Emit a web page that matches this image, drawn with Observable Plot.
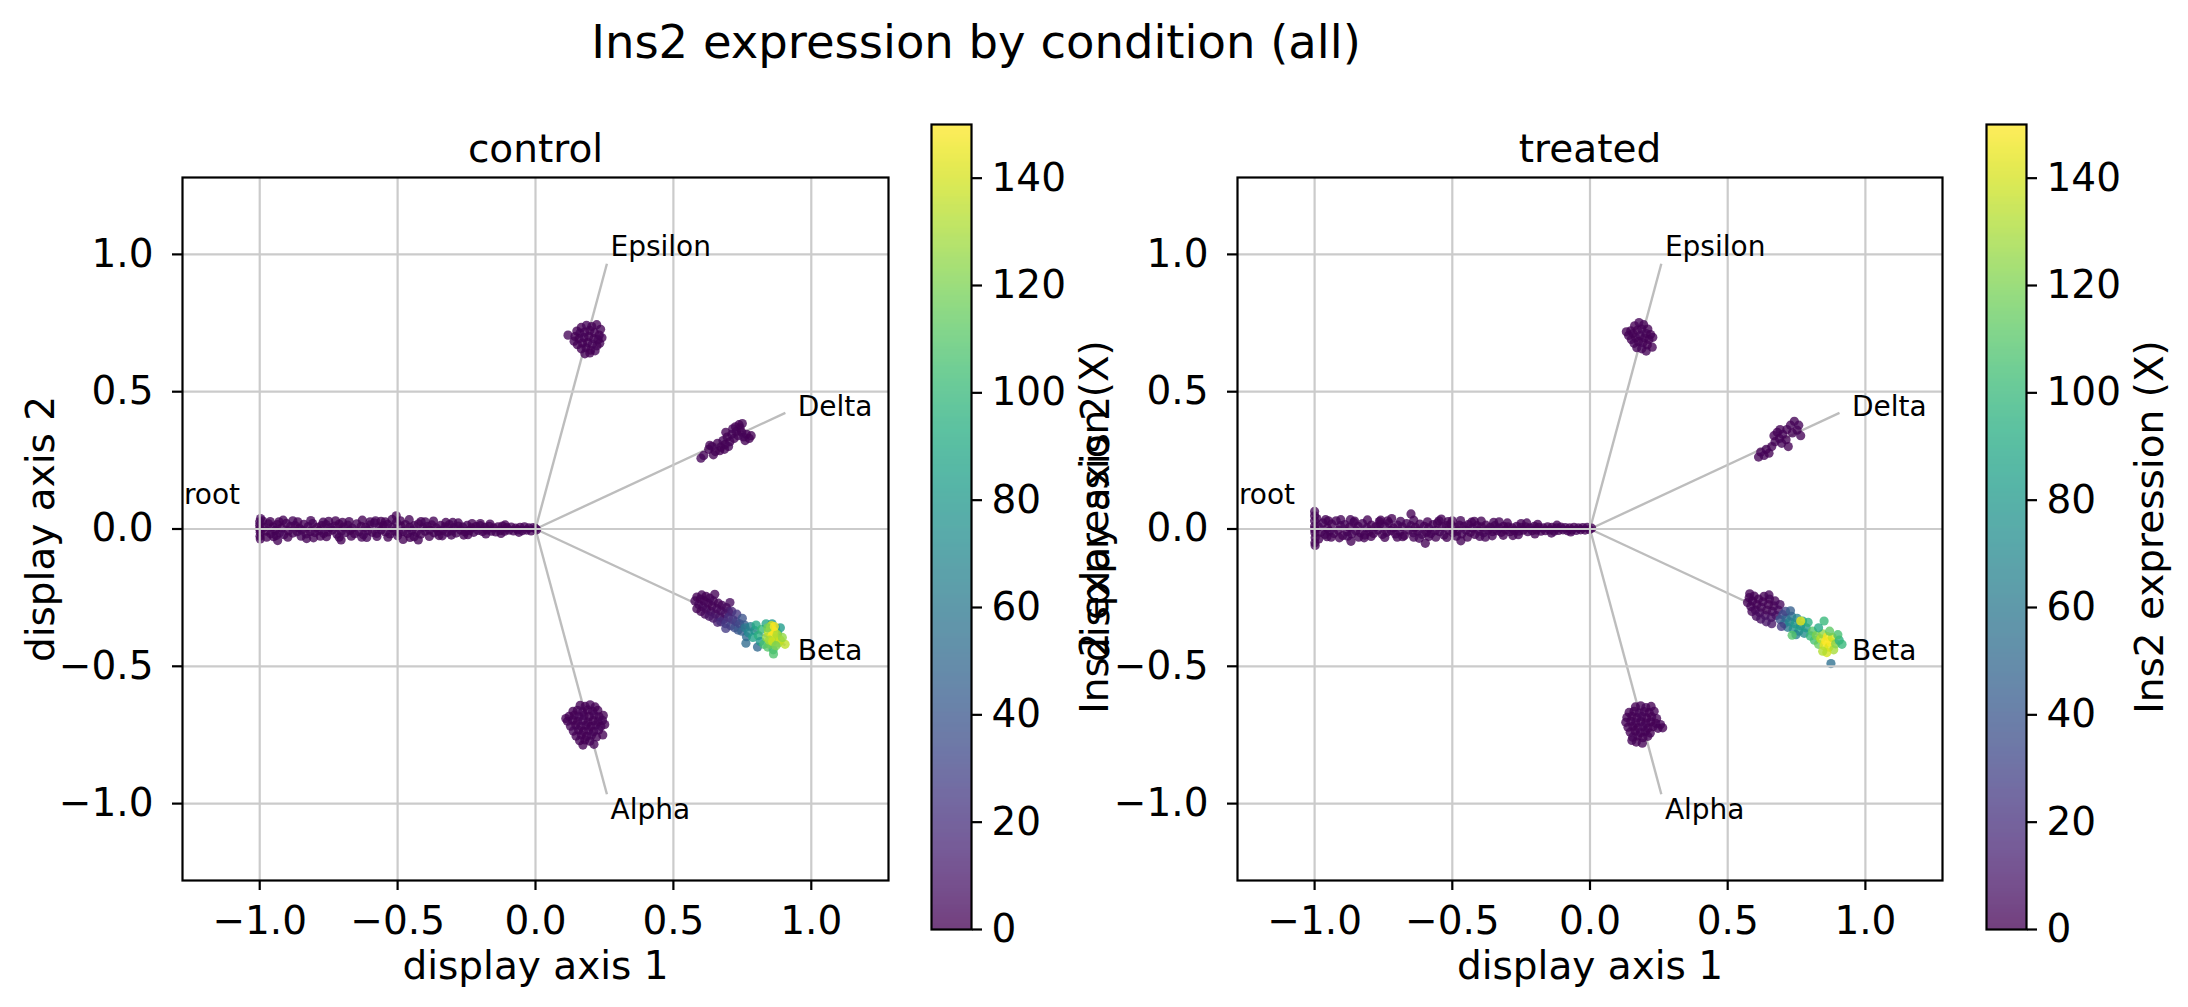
<!DOCTYPE html>
<html>
<head>
<meta charset="utf-8">
<script src="https://cdn.jsdelivr.net/npm/d3@7"></script>
<script src="https://cdn.jsdelivr.net/npm/@observablehq/plot@0.6"></script>
<style>
  html, body { margin: 0; padding: 0; background: #fff; }
  #fig { position: relative; width: 2188px; height: 1007px; overflow: hidden; background: #fff;
         font-family: "DejaVu Sans", sans-serif; color: #000; }
  #fig svg { position: absolute; top: 0; }
  #title { position: absolute; left: 0; top: 19px; width: 1952px; text-align: center;
           font-size: 46.5px; line-height: 46px; white-space: nowrap; }
</style>
</head>
<body>
<div id="fig"><div id="title">Ins2 expression by condition (all)</div></div>
<script>
// ---- axes ----
const xTicks = [-1, -0.5, 0, 0.5, 1];
const yTicks = [-1, -0.5, 0, 0.5, 1];
const cbTicks = [0, 20, 40, 60, 80, 100, 120, 140];
const axisDomain = [-1.28, 1.28];
const exprDomain = [0, 150];

// ---- branch geometry (tips of the gray guide lines and label anchors) ----
const branchNames = ["Epsilon", "Delta", "Beta", "Alpha"];
const branchTipX = [0.259, 0.906, 0.906, 0.259];
const branchTipY = [0.966, 0.423, -0.423, -0.966];
const labelX = [0.272, 0.951, 0.951, 0.272];
const labelY = [1.026, 0.444, -0.444, -1.022];
const rootName = "root";
const rootLabelX = -1.275;
const rootLabelY = 0.125;

// ---- cells: [display axis 1, display axis 2, Ins2 expression] ----
const controlRoot = [
[-1.000,0.014,1],[-0.998,-0.012,0],[-1.000,0.026,2],[-0.999,-0.026,1],[-1.000,0.000,0],[-0.997,0.038,3],[-0.998,-0.036,1],
[-0.984,0.006,0],[-0.976,-0.008,1],[-0.968,0.019,2],[-0.960,-0.017,0],[-0.952,0.008,1],[-0.944,-0.005,0],[-0.936,0.016,2],[-0.928,-0.014,1],[-0.920,0.004,0],[-0.912,-0.021,3],[-0.904,0.021,1],[-0.896,-0.007,0],[-0.888,0.010,1],[-0.880,-0.015,2],[-0.872,0.013,0],[-0.864,-0.010,1],[-0.856,0.003,0],[-0.848,-0.004,2],[-0.840,0.017,1],[-0.832,-0.018,0],[-0.824,0.009,1],[-0.816,-0.009,0],[-0.808,0.020,2],[-0.800,-0.013,1],[-0.792,0.006,0],[-0.784,-0.006,1],[-0.776,0.012,0],[-0.768,-0.016,2],[-0.760,0.016,1],[-0.752,-0.011,0],[-0.744,0.005,1],[-0.736,-0.004,0],[-0.728,0.011,2],[-0.720,-0.019,1],[-0.712,0.018,0],[-0.704,-0.008,1],[-0.696,0.007,0],[-0.688,-0.013,2],[-0.680,0.014,1],[-0.672,-0.005,0],[-0.664,0.003,1],[-0.656,-0.017,0],[-0.648,0.019,2],[-0.640,-0.010,1],[-0.632,0.010,0],[-0.624,-0.021,1],[-0.616,0.006,0],[-0.608,-0.006,2],[-0.600,0.015,1],[-0.592,-0.012,0],[-0.584,0.022,1],[-0.576,-0.016,0],[-0.568,0.008,2],[-0.560,-0.004,1],[-0.552,0.013,0],[-0.544,-0.011,1],[-0.536,0.017,0],[-0.528,-0.018,2],[-0.520,0.005,1],[-0.512,-0.007,0],[-0.504,0.025,1],[-0.496,-0.013,0],[-0.488,0.011,2],[-0.480,-0.009,1],[-0.472,0.016,0],[-0.464,-0.016,1],[-0.456,0.007,0],[-0.448,-0.005,2],[-0.440,0.012,1],[-0.432,-0.012,0],[-0.424,0.019,1],[-0.416,-0.019,0],[-0.408,0.006,2],[-0.400,-0.008,1],[-0.392,0.010,0],[-0.384,-0.004,1],[-0.376,0.015,0],[-0.368,-0.014,2],[-0.360,0.004,1],[-0.352,-0.009,0],[-0.344,0.013,1],[-0.336,-0.005,0],[-0.328,0.008,2],[-0.320,-0.012,1],[-0.312,0.016,0],[-0.304,-0.007,1],[-0.296,0.005,0],[-0.288,-0.015,2],[-0.280,0.011,1],[-0.272,-0.004,0],[-0.264,0.007,1],[-0.256,-0.010,0],[-0.248,0.013,2],[-0.240,-0.006,1],[-0.232,0.004,0],[-0.224,-0.012,1],[-0.216,0.009,0],[-0.208,-0.005,2],[-0.200,0.012,1],[-0.192,-0.009,0],[-0.184,0.006,1],[-0.176,-0.004,0],[-0.168,0.010,2],[-0.160,-0.008,1],[-0.152,0.004,0],[-0.144,-0.011,1],[-0.136,0.008,0],[-0.128,-0.005,2],[-0.120,0.011,1],[-0.112,-0.008,0],[-0.104,0.005,1],[-0.096,-0.004,0],[-0.088,0.007,2],[-0.080,-0.007,1],[-0.072,0.003,0],[-0.064,-0.003,1],[-0.056,0.006,0],[-0.048,-0.006,2],[-0.040,0.008,1],[-0.032,-0.004,0],[-0.024,0.004,1],[-0.016,-0.007,0],[-0.008,0.005,2],[0.000,0.002,1],[0.004,-0.003,0],
[-0.990,0.030,1],[-0.962,0.027,0],[-0.915,0.032,1],[-0.862,0.026,0],[-0.815,0.031,2],[-0.770,0.025,1],[-0.725,0.030,0],[-0.676,0.027,1],[-0.628,0.032,0],[-0.580,0.030,2],[-0.545,0.026,1],[-0.490,0.030,0],[-0.458,0.034,1],[-0.415,0.027,0],[-0.370,0.029,1],[-0.325,0.024,0],[-0.280,0.022,1],[-0.230,0.020,0],[-0.165,0.018,1],[-0.110,0.015,0],
[-0.975,-0.030,0],[-0.940,-0.024,1],[-0.898,-0.030,0],[-0.850,-0.026,2],[-0.805,-0.032,1],[-0.758,-0.028,0],[-0.712,-0.030,1],[-0.668,-0.026,0],[-0.612,-0.031,2],[-0.575,-0.027,1],[-0.535,-0.030,0],[-0.500,-0.025,1],[-0.455,-0.031,0],[-0.425,-0.040,1],[-0.385,-0.027,0],[-0.338,-0.025,2],[-0.305,-0.022,1],[-0.245,-0.021,0],[-0.180,-0.018,1],[-0.125,-0.016,0],[-0.060,-0.012,1],
[-0.950,-0.028,1],[-0.930,0.026,0],[-0.880,0.030,2],[-0.830,-0.035,1],[-0.780,-0.026,0],[-0.750,0.028,1],[-0.700,0.024,0],[-0.630,-0.030,2],[-0.600,0.026,1],[-0.560,0.028,0],[-0.520,0.035,1],[-0.480,-0.038,0],[-0.440,-0.028,1],[-0.400,0.026,2],[-0.350,-0.024,0],[-0.300,0.024,1],[-0.260,-0.022,0],[-0.200,0.020,1],[-0.505,0.048,0],[-0.935,-0.042,1],[-0.705,-0.040,0]
];
const controlEpsilon = [
[0.150,0.721,1],[0.166,0.734,0],[0.185,0.742,2],[0.204,0.737,1],[0.222,0.744,0],[0.236,0.727,1],
[0.143,0.701,0],[0.161,0.713,2],[0.178,0.717,1],[0.197,0.723,0],[0.214,0.715,1],[0.231,0.706,0],
[0.140,0.684,1],[0.158,0.693,0],[0.176,0.697,2],[0.193,0.701,1],[0.211,0.693,0],[0.227,0.689,2],[0.241,0.696,1],
[0.152,0.671,0],[0.170,0.677,1],[0.189,0.679,0],[0.206,0.673,2],[0.223,0.667,1],
[0.166,0.656,0],[0.183,0.660,1],[0.200,0.651,0],[0.216,0.649,2],[0.179,0.638,1],[0.197,0.641,0],[0.233,0.676,1],[0.118,0.706,2]
];
const controlDelta = [
[0.610,0.268,1],[0.628,0.290,0],[0.640,0.300,2],[0.652,0.282,1],[0.660,0.312,0],[0.672,0.298,1],[0.680,0.322,2],[0.688,0.308,0],
[0.695,0.335,1],[0.705,0.318,0],[0.712,0.345,2],[0.720,0.330,1],[0.728,0.356,0],[0.735,0.340,1],[0.742,0.368,2],[0.748,0.352,0],
[0.738,0.380,1],[0.725,0.372,0],[0.755,0.335,2],[0.765,0.345,1],[0.775,0.330,0],[0.760,0.322,1],[0.700,0.300,2],[0.668,0.285,0],
[0.645,0.270,1],[0.690,0.352,0],[0.715,0.365,2],[0.750,0.384,1],[0.685,0.290,0],[0.632,0.305,1],[0.600,0.258,2],[0.782,0.340,0]
];
const controlBeta = [
[0.578,-0.262,2],[0.585,-0.248,1],[0.592,-0.275,3],[0.598,-0.255,0],[0.603,-0.240,2],[0.606,-0.283,4],[0.612,-0.262,1],[0.618,-0.245,0],
[0.620,-0.292,3],[0.626,-0.270,2],[0.632,-0.252,1],[0.636,-0.300,5],[0.640,-0.280,0],[0.645,-0.262,2],[0.650,-0.238,1],[0.652,-0.310,6],
[0.658,-0.290,3],[0.663,-0.270,1],[0.668,-0.320,8],[0.672,-0.298,4],[0.676,-0.278,2],[0.682,-0.330,10],[0.688,-0.308,6],[0.692,-0.286,3],
[0.600,-0.300,2],[0.615,-0.310,4],[0.630,-0.318,7],[0.645,-0.325,9],[0.660,-0.340,12],[0.585,-0.290,1],[0.700,-0.300,8],[0.705,-0.268,4],
[0.672,-0.338,18],[0.690,-0.345,25],[0.700,-0.322,20],[0.708,-0.352,30],[0.715,-0.330,22],[0.722,-0.360,35],[0.728,-0.338,28],[0.735,-0.368,40],
[0.740,-0.345,32],[0.748,-0.372,45],[0.712,-0.300,15],[0.730,-0.310,24],[0.750,-0.325,38],[0.690,-0.362,26],[0.758,-0.350,42],[0.765,-0.392,50],
[0.763,-0.416,52],[0.805,-0.430,50],
[0.760,-0.360,60],[0.772,-0.378,70],[0.780,-0.355,65],[0.788,-0.395,85],[0.795,-0.370,75],[0.800,-0.350,90],[0.808,-0.388,95],[0.815,-0.410,80],
[0.820,-0.365,100],[0.828,-0.420,105],[0.836,-0.345,88],[0.842,-0.430,110],[0.858,-0.345,78],[0.870,-0.360,85],[0.888,-0.360,82],[0.878,-0.380,95],
[0.862,-0.440,102],[0.863,-0.455,108],[0.850,-0.420,115],
[0.838,-0.395,125],[0.845,-0.375,135],[0.852,-0.360,145],[0.858,-0.388,150],[0.864,-0.372,148],[0.870,-0.398,140],[0.848,-0.405,130],[0.860,-0.410,138],
[0.876,-0.385,132],[0.880,-0.415,128],[0.888,-0.405,140],[0.872,-0.425,120],[0.855,-0.352,142],[0.842,-0.360,118],[0.866,-0.355,150],[0.905,-0.420,135],[0.895,-0.395,125]
];
const controlAlpha = [
[0.162,-0.642,1],[0.180,-0.646,0],[0.198,-0.640,2],[0.216,-0.648,1],
[0.136,-0.664,0],[0.152,-0.660,1],[0.171,-0.666,2],[0.189,-0.659,0],[0.207,-0.664,1],[0.226,-0.660,0],
[0.122,-0.682,1],[0.141,-0.678,0],[0.158,-0.684,2],[0.176,-0.679,1],[0.195,-0.683,0],[0.213,-0.677,2],[0.231,-0.684,1],[0.246,-0.679,0],
[0.116,-0.700,0],[0.135,-0.696,1],[0.153,-0.701,0],[0.172,-0.697,2],[0.191,-0.703,1],[0.209,-0.698,0],[0.227,-0.702,1],[0.243,-0.697,2],
[0.127,-0.718,1],[0.146,-0.714,0],[0.165,-0.719,2],[0.183,-0.715,1],[0.201,-0.720,0],[0.219,-0.714,1],[0.237,-0.719,0],[0.251,-0.712,1],
[0.137,-0.736,2],[0.156,-0.732,1],[0.174,-0.737,0],[0.193,-0.733,1],[0.211,-0.738,0],[0.229,-0.732,2],
[0.147,-0.754,0],[0.166,-0.750,1],[0.185,-0.756,0],[0.203,-0.751,2],[0.221,-0.757,1],[0.244,-0.750,0],
[0.160,-0.771,1],[0.179,-0.768,0],[0.197,-0.773,1],[0.172,-0.787,0],[0.212,-0.784,2],[0.110,-0.690,0]
];

const treatedRoot = [
[-1.000,0.010,0],[-0.999,-0.014,1],[-1.000,0.030,2],[-0.998,-0.032,0],[-1.000,0.048,1],[-0.999,-0.050,0],[-1.000,0.064,2],[-0.998,-0.060,1],[-1.000,-0.002,0],
[-0.986,0.008,1],[-0.978,-0.012,0],[-0.970,0.022,2],[-0.962,-0.020,1],[-0.954,0.004,0],[-0.946,-0.008,1],[-0.938,0.018,0],[-0.930,-0.016,2],[-0.922,0.030,1],[-0.914,-0.004,0],[-0.906,0.012,1],[-0.898,-0.024,0],[-0.890,0.016,2],[-0.882,-0.010,1],[-0.874,0.006,0],[-0.866,-0.018,1],[-0.858,0.024,0],[-0.850,-0.006,2],[-0.842,0.010,1],[-0.834,-0.014,0],[-0.826,0.020,1],[-0.818,-0.022,0],[-0.810,0.004,2],[-0.802,-0.010,1],[-0.794,0.014,0],[-0.786,-0.016,1],[-0.778,0.008,0],[-0.770,-0.004,2],[-0.762,0.018,1],[-0.754,-0.020,0],[-0.746,0.010,1],[-0.738,-0.012,0],[-0.730,0.022,2],[-0.722,-0.006,1],[-0.714,0.004,0],[-0.706,-0.018,1],[-0.698,0.014,0],[-0.690,-0.010,2],[-0.682,0.008,1],[-0.674,-0.024,0],[-0.666,0.020,1],[-0.658,-0.004,0],[-0.650,0.012,2],[-0.642,-0.014,1],[-0.634,0.006,0],[-0.626,-0.008,1],[-0.618,0.018,0],[-0.610,-0.020,2],[-0.602,0.010,1],[-0.594,-0.012,0],[-0.586,0.004,1],[-0.578,-0.016,0],[-0.570,0.016,2],[-0.562,-0.006,1],[-0.554,0.022,0],[-0.546,-0.010,1],[-0.538,0.008,0],[-0.530,-0.022,2],[-0.522,0.012,1],[-0.514,-0.004,0],[-0.506,0.018,1],[-0.498,-0.014,0],[-0.490,0.006,2],[-0.482,-0.008,1],[-0.474,0.014,0],[-0.466,-0.018,1],[-0.458,0.010,0],[-0.450,-0.004,2],[-0.442,0.016,1],[-0.434,-0.012,0],[-0.426,0.004,1],[-0.418,-0.020,0],[-0.410,0.012,2],[-0.402,-0.008,1],[-0.394,0.008,0],[-0.386,-0.014,1],[-0.378,0.014,0],[-0.370,-0.004,2],[-0.362,0.006,1],[-0.354,-0.010,0],[-0.346,0.012,1],[-0.338,-0.006,0],[-0.330,0.004,2],[-0.322,-0.012,1],[-0.314,0.010,0],[-0.306,-0.004,1],[-0.298,0.008,0],[-0.290,-0.010,2],[-0.282,0.004,1],[-0.274,-0.006,0],[-0.266,0.010,1],[-0.258,-0.008,0],[-0.250,0.006,2],[-0.242,-0.004,1],[-0.234,0.008,0],[-0.226,-0.010,1],[-0.218,0.004,0],[-0.210,-0.006,2],[-0.202,0.010,1],[-0.194,-0.004,0],[-0.186,0.006,1],[-0.178,-0.008,0],[-0.170,0.004,2],[-0.162,-0.006,1],[-0.154,0.008,0],[-0.146,-0.004,1],[-0.138,0.006,0],[-0.130,-0.008,2],[-0.122,0.004,1],[-0.114,-0.005,0],[-0.106,0.007,1],[-0.098,-0.003,0],[-0.090,0.005,2],[-0.082,-0.006,1],[-0.074,0.004,0],[-0.066,-0.004,1],[-0.058,0.006,0],[-0.050,-0.005,2],[-0.042,0.004,1],[-0.034,-0.003,0],[-0.026,0.005,1],[-0.018,-0.004,0],[-0.010,0.006,2],[-0.002,-0.002,1],[0.006,0.003,0],
[-0.992,0.038,1],[-0.950,0.030,0],[-0.905,0.034,2],[-0.855,0.029,1],[-0.808,0.033,0],[-0.765,0.027,1],[-0.735,0.030,0],[-0.688,0.028,2],[-0.640,0.032,1],[-0.590,0.026,0],[-0.548,0.030,1],[-0.515,0.027,0],[-0.470,0.031,2],[-0.430,0.025,1],[-0.395,0.029,0],[-0.350,0.024,1],[-0.300,0.022,0],[-0.250,0.020,1],[-0.190,0.017,0],[-0.120,0.014,1],
[-0.985,-0.036,0],[-0.955,-0.028,1],[-0.910,-0.032,0],[-0.880,-0.026,2],[-0.840,-0.030,1],[-0.795,-0.027,0],[-0.745,-0.031,1],[-0.680,-0.028,0],[-0.640,-0.030,2],[-0.585,-0.027,1],[-0.520,-0.031,0],[-0.485,-0.026,1],[-0.445,-0.030,0],[-0.400,-0.027,2],[-0.355,-0.025,1],[-0.315,-0.023,0],[-0.260,-0.021,1],[-0.200,-0.018,0],[-0.140,-0.015,1],[-0.070,-0.011,0],
[-0.960,0.034,1],[-0.940,-0.030,0],[-0.870,0.034,2],[-0.868,-0.045,1],[-0.820,-0.032,1],[-0.760,0.032,0],[-0.700,-0.030,1],[-0.650,0.055,0],[-0.620,-0.034,2],[-0.598,-0.052,1],[-0.560,-0.030,1],[-0.500,0.030,0],[-0.469,-0.043,1],[-0.420,0.028,0],[-0.380,-0.030,2],[-0.330,0.026,1],[-0.280,-0.024,0],[-0.230,0.022,1],[-0.720,0.038,0],[-0.540,0.036,1]
];
const treatedEpsilon = [
[0.148,0.722,1],[0.162,0.740,0],[0.178,0.752,2],[0.195,0.744,1],[0.210,0.728,0],[0.140,0.705,2],[0.156,0.712,1],[0.172,0.724,0],
[0.188,0.728,1],[0.204,0.712,2],[0.220,0.708,0],[0.150,0.690,1],[0.166,0.696,0],[0.182,0.704,2],[0.198,0.696,1],[0.214,0.690,0],
[0.228,0.698,1],[0.160,0.676,2],[0.176,0.682,0],[0.192,0.678,1],[0.208,0.670,0],[0.170,0.660,1],[0.188,0.656,2],[0.226,0.662,0],
[0.204,0.648,1],[0.132,0.718,0]
];
const treatedDelta = [
[0.612,0.262,1],[0.620,0.280,0],[0.632,0.268,2],[0.640,0.290,1],[0.650,0.276,0],[0.660,0.300,1],[0.672,0.318,2],[0.668,0.340,0],
[0.680,0.352,1],[0.688,0.330,0],[0.696,0.312,2],[0.700,0.345,1],[0.712,0.325,0],[0.715,0.362,1],[0.728,0.378,2],[0.735,0.350,0],
[0.742,0.392,1],[0.752,0.360,0],[0.758,0.378,2],[0.765,0.340,1],[0.720,0.300,0],[0.690,0.362,1]
];
const treatedBeta = [
[0.572,-0.268,1],[0.578,-0.250,0],[0.584,-0.282,2],[0.590,-0.262,1],[0.596,-0.244,0],[0.600,-0.295,3],[0.606,-0.275,1],[0.612,-0.255,0],
[0.616,-0.305,4],[0.622,-0.285,2],[0.628,-0.265,1],[0.632,-0.245,0],[0.636,-0.315,5],[0.642,-0.295,2],[0.648,-0.275,1],[0.652,-0.255,0],
[0.658,-0.322,6],[0.662,-0.300,3],[0.668,-0.280,1],[0.672,-0.262,2],[0.588,-0.300,2],[0.604,-0.318,4],[0.620,-0.328,6],[0.640,-0.338,8],
[0.676,-0.315,7],[0.684,-0.295,4],[0.690,-0.275,3],[0.580,-0.236,1],[0.650,-0.240,2],[0.660,-0.345,9],
[0.690,-0.330,40],[0.700,-0.312,35],[0.705,-0.345,55],[0.712,-0.325,48],[0.718,-0.358,60],[0.725,-0.338,70],[0.732,-0.318,58],[0.738,-0.365,75],
[0.745,-0.345,80],[0.752,-0.325,68],[0.758,-0.372,85],[0.765,-0.352,78],[0.772,-0.335,90],[0.778,-0.380,72],[0.785,-0.360,82],[0.792,-0.340,95],
[0.710,-0.300,30],[0.728,-0.298,45],[0.748,-0.385,65],[0.695,-0.355,25],
[0.800,-0.390,100],[0.808,-0.372,110],[0.815,-0.405,105],[0.822,-0.388,120],[0.830,-0.420,115],[0.838,-0.400,135],[0.845,-0.382,125],[0.850,-0.425,145],
[0.856,-0.408,150],[0.862,-0.392,148],[0.868,-0.430,142],[0.874,-0.412,150],[0.880,-0.395,138],[0.885,-0.440,130],[0.860,-0.450,140],[0.845,-0.445,132],
[0.892,-0.418,122],[0.905,-0.405,95],[0.915,-0.420,100],[0.900,-0.385,105],[0.850,-0.335,100],[0.765,-0.335,145],[0.734,-0.387,110],[0.875,-0.490,55],
[0.830,-0.360,90],[0.870,-0.372,112]
];
const treatedAlpha = [
[0.165,-0.648,0],[0.184,-0.644,1],[0.203,-0.650,2],[0.222,-0.646,0],
[0.142,-0.668,1],[0.160,-0.664,0],[0.179,-0.670,2],[0.197,-0.665,1],[0.215,-0.669,0],[0.233,-0.664,1],
[0.134,-0.686,0],[0.152,-0.682,1],[0.170,-0.688,0],[0.188,-0.683,2],[0.206,-0.689,1],[0.224,-0.684,0],[0.242,-0.690,1],
[0.130,-0.704,1],[0.148,-0.700,0],[0.166,-0.706,2],[0.185,-0.701,1],[0.203,-0.707,0],[0.221,-0.702,1],[0.239,-0.708,0],[0.256,-0.712,2],
[0.138,-0.722,0],[0.156,-0.718,1],[0.174,-0.724,0],[0.193,-0.719,2],[0.211,-0.725,1],[0.229,-0.720,0],[0.247,-0.726,1],[0.264,-0.724,0],
[0.146,-0.740,1],[0.164,-0.736,0],[0.183,-0.742,2],[0.201,-0.737,1],[0.219,-0.743,0],
[0.155,-0.758,2],[0.174,-0.754,1],[0.192,-0.760,0],[0.210,-0.755,1],
[0.168,-0.776,0],[0.190,-0.780,1],[0.152,-0.770,2]
];

const conditions = ["control", "treated"];
const cellsByCondition = [
  [controlRoot, controlEpsilon, controlDelta, controlBeta, controlAlpha],
  [treatedRoot, treatedEpsilon, treatedDelta, treatedBeta, treatedAlpha]
];

// ---- drawing ----
const FONT = "DejaVu Sans";
const fmt = d => (d < 0 ? "\u2212" : "") + Math.abs(d).toFixed(1);
const colorScale = {type: "linear", scheme: "viridis", domain: exprDomain};
const svgStyle = {background: "none", fontFamily: FONT, overflow: "visible", maxWidth: "none", color: "#000"};
const fig = document.getElementById("fig");

function scatterPanel(title, cells, left, width, marginLeft, marginRight) {
  const pts = cells.flat();
  const svg = Plot.plot({
    width, height: 1007,
    marginLeft, marginRight, marginTop: 177, marginBottom: 127,
    x: {domain: axisDomain},
    y: {domain: axisDomain},
    color: colorScale,
    style: svgStyle,
    marks: [
      Plot.link(branchNames, {
        x1: () => 0, y1: () => 0,
        x2: (d, i) => branchTipX[i], y2: (d, i) => branchTipY[i],
        stroke: "#bdbdbd", strokeWidth: 2.4
      }),
      Plot.dot(pts, {x: d => d[0], y: d => d[1], fill: d => d[2], r: 4.6, fillOpacity: 0.78, stroke: "none"}),
      Plot.gridX(xTicks, {stroke: "#cbcbcb", strokeOpacity: 1, strokeWidth: 2.2}),
      Plot.gridY(yTicks, {stroke: "#cbcbcb", strokeOpacity: 1, strokeWidth: 2.2}),
      Plot.text(branchNames, {
        x: (d, i) => labelX[i], y: (d, i) => labelY[i], text: d => d,
        textAnchor: "start", lineAnchor: "middle", fontSize: 28, fill: "#000"
      }),
      Plot.text([rootName], {x: () => rootLabelX, y: () => rootLabelY, text: d => d,
        textAnchor: "start", lineAnchor: "middle", fontSize: 28, fill: "#000"}),
      Plot.frame({stroke: "#000", strokeWidth: 2.2}),
      Plot.axisX(xTicks, {tickFormat: fmt, tickSize: 10, tickPadding: 16, fontSize: 39, strokeWidth: 2.2, label: null}),
      Plot.axisY(yTicks, {tickFormat: fmt, tickSize: 10, tickPadding: 19, fontSize: 39, strokeWidth: 2.2, label: null}),
      Plot.text([title], {frameAnchor: "top", dy: -28, text: d => d, textAnchor: "middle", lineAnchor: "middle", fontSize: 39, fill: "#000"}),
      Plot.text(["display axis 1"], {frameAnchor: "bottom", dy: 86, text: d => d, textAnchor: "middle", lineAnchor: "middle", fontSize: 39, fill: "#000"}),
      Plot.text(["display axis 2"], {frameAnchor: "left", dx: -141, rotate: -90, text: d => d, textAnchor: "middle", lineAnchor: "middle", fontSize: 39, fill: "#000"})
    ]
  });
  svg.style.left = left + "px";
  fig.appendChild(svg);
}

function colorbar(left, width) {
  const barWidth = 40;
  const svg = Plot.plot({
    width, height: 1007,
    marginLeft: 0, marginRight: width - barWidth, marginTop: 124, marginBottom: 78,
    x: {domain: [0, 1], axis: null},
    y: {domain: exprDomain, axis: null},
    color: colorScale,
    style: svgStyle,
    marks: [
      Plot.raster({fill: (x, y) => y, x1: 0, x2: 1, y1: exprDomain[0], y2: exprDomain[1],
        width: 2, height: 300, fillOpacity: 0.75, imageRendering: "auto"}),
      Plot.frame({stroke: "#000", strokeWidth: 2.2}),
      Plot.axisY(cbTicks, {anchor: "right", tickSize: 10, tickPadding: 10, fontSize: 39, strokeWidth: 2.2, label: null}),
      Plot.text(["Ins2 expression (X)"], {frameAnchor: "right", dx: 124, rotate: -90, text: d => d,
        textAnchor: "middle", lineAnchor: "middle", fontSize: 39, fill: "#000"})
    ]
  });
  svg.style.left = left + "px";
  fig.appendChild(svg);
}

scatterPanel(conditions[0], cellsByCondition[0], 0, 910, 182, 22);
colorbar(931, 220);
scatterPanel(conditions[1], cellsByCondition[1], 1000, 960, 237, 18);
colorbar(1986, 202);
</script>
</body>
</html>
